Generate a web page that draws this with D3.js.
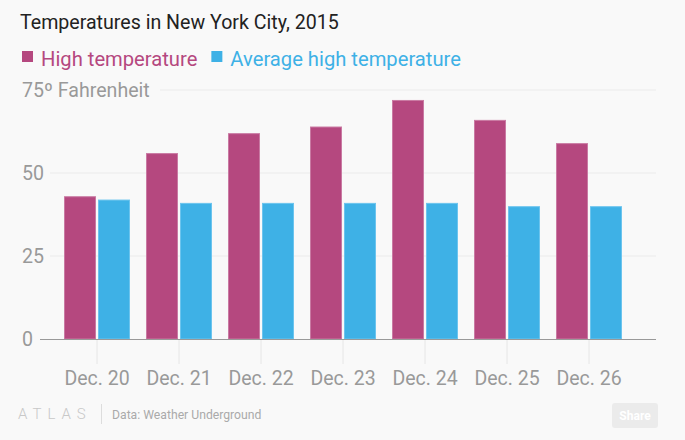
<!DOCTYPE html>
<html>
<head>
<meta charset="utf-8">
<script src="https://cdn.jsdelivr.net/npm/d3@7"></script>
<style>
  body { margin: 0; background: #f9f9f9; }
  svg { display: block; font-family: Roboto, sans-serif; }
</style>
</head>
<body>
<div id="chart"></div>
<script>
// data
const days = ["Dec. 20", "Dec. 21", "Dec. 22", "Dec. 23", "Dec. 24", "Dec. 25", "Dec. 26"];
const highTemp = [43, 56, 62, 64, 72, 66, 59];
const avgHigh = [42, 41, 41, 41, 41, 40, 40];
const seriesNames = ["High temperature", "Average high temperature"];
const yTicks = [0, 25, 50, 75];

const colors = ["#b5487f", "#3eb1e6"];

const width = 685;
const height = 440;

const rows = days.map((d, i) => ({day: d, values: [highTemp[i], avgHigh[i]]}));

const svg = d3.select("#chart")
    .append("svg")
    .attr("width", width)
    .attr("height", height);

// scales
const x = d3.scaleBand()
    .domain(days)
    .range([56, 630]);

const x1 = d3.scaleBand()
    .domain([0, 1])
    .range([8, 74])
    .paddingInner(2 / 34);

const y = d3.scaleLinear()
    .domain([0, 75])
    .range([339, 90]);

// title
svg.append("text")
    .attr("x", 20)
    .attr("y", 29)
    .attr("font-size", 19.6)
    .attr("fill", "#222")
    .text("Temperatures in New York City, 2015");

// legend
let lx = 22;
seriesNames.forEach((name, i) => {
    svg.append("rect")
        .attr("x", lx)
        .attr("y", 51)
        .attr("width", 11)
        .attr("height", 11)
        .attr("fill", colors[i]);
    const t = svg.append("text")
        .attr("x", lx + 19)
        .attr("y", 66)
        .attr("font-size", 20.2)
        .attr("fill", colors[i])
        .text(name);
    lx += 19 + t.node().getComputedTextLength() + 14;
});

// grid lines
svg.append("g")
    .selectAll("line")
    .data(yTicks.filter(d => d > 0))
    .join("line")
        .attr("x1", d => d === 75 ? 160 : 50)
        .attr("x2", 656)
        .attr("y1", d => y(d))
        .attr("y2", d => y(d))
        .attr("stroke", "#ebebeb");

// y labels
svg.append("g")
    .selectAll("text")
    .data(yTicks)
    .join("text")
        .attr("x", 22)
        .attr("y", d => y(d))
        .attr("dy", "0.36em")
        .attr("font-size", 19.6)
        .attr("fill", "#999")
        .text(d => d === 75 ? "75º Fahrenheit" : d);

// x ticks
svg.append("g")
    .selectAll("line")
    .data(days)
    .join("line")
        .attr("x1", d => x(d) + x.bandwidth() / 2)
        .attr("x2", d => x(d) + x.bandwidth() / 2)
        .attr("y1", 339)
        .attr("y2", 364)
        .attr("stroke", "#e6e6e6");

// bars
svg.append("g")
    .selectAll("g")
    .data(rows)
    .join("g")
        .attr("transform", d => `translate(${x(d.day)},0)`)
    .selectAll("rect")
    .data(d => d.values.map((v, i) => ({i, v})))
    .join("rect")
        .attr("x", d => x1(d.i) + 0.5)
        .attr("y", d => y(d.v) + 0.5)
        .attr("width", x1.bandwidth() - 1)
        .attr("height", d => y(0) - y(d.v) - 0.5)
        .attr("fill", d => colors[d.i])
        .attr("stroke", d => d.i === 0 ? "#c97aa3" : "#6cc4ee")
        .attr("stroke-width", 1);

// baseline
svg.append("line")
    .attr("x1", 40)
    .attr("x2", 656)
    .attr("y1", 339.5)
    .attr("y2", 339.5)
    .attr("stroke", "#999");

// x labels
svg.append("g")
    .selectAll("text")
    .data(days)
    .join("text")
        .attr("x", d => x(d) + x.bandwidth() / 2)
        .attr("y", 385)
        .attr("text-anchor", "middle")
        .attr("font-size", 19.5)
        .attr("fill", "#999")
        .text(d => d);

// footer
svg.append("text")
    .attr("x", 18)
    .attr("y", 419)
    .attr("font-size", 15)
    .attr("font-weight", 300)
    .attr("letter-spacing", 6)
    .attr("fill", "#c8c8c8")
    .text("ATLAS");

svg.append("line")
    .attr("x1", 101.5)
    .attr("x2", 101.5)
    .attr("y1", 404)
    .attr("y2", 424)
    .attr("stroke", "#ddd");

svg.append("text")
    .attr("x", 112)
    .attr("y", 419)
    .attr("font-size", 12.2)
    .attr("fill", "#aaa")
    .text("Data: Weather Underground");

svg.append("rect")
    .attr("x", 612)
    .attr("y", 403)
    .attr("width", 46)
    .attr("height", 25)
    .attr("rx", 3)
    .attr("fill", "#ebebeb");

svg.append("text")
    .attr("x", 635)
    .attr("y", 420)
    .attr("text-anchor", "middle")
    .attr("font-size", 12)
    .attr("font-weight", "bold")
    .attr("fill", "#fff")
    .text("Share");
</script>
</body>
</html>
